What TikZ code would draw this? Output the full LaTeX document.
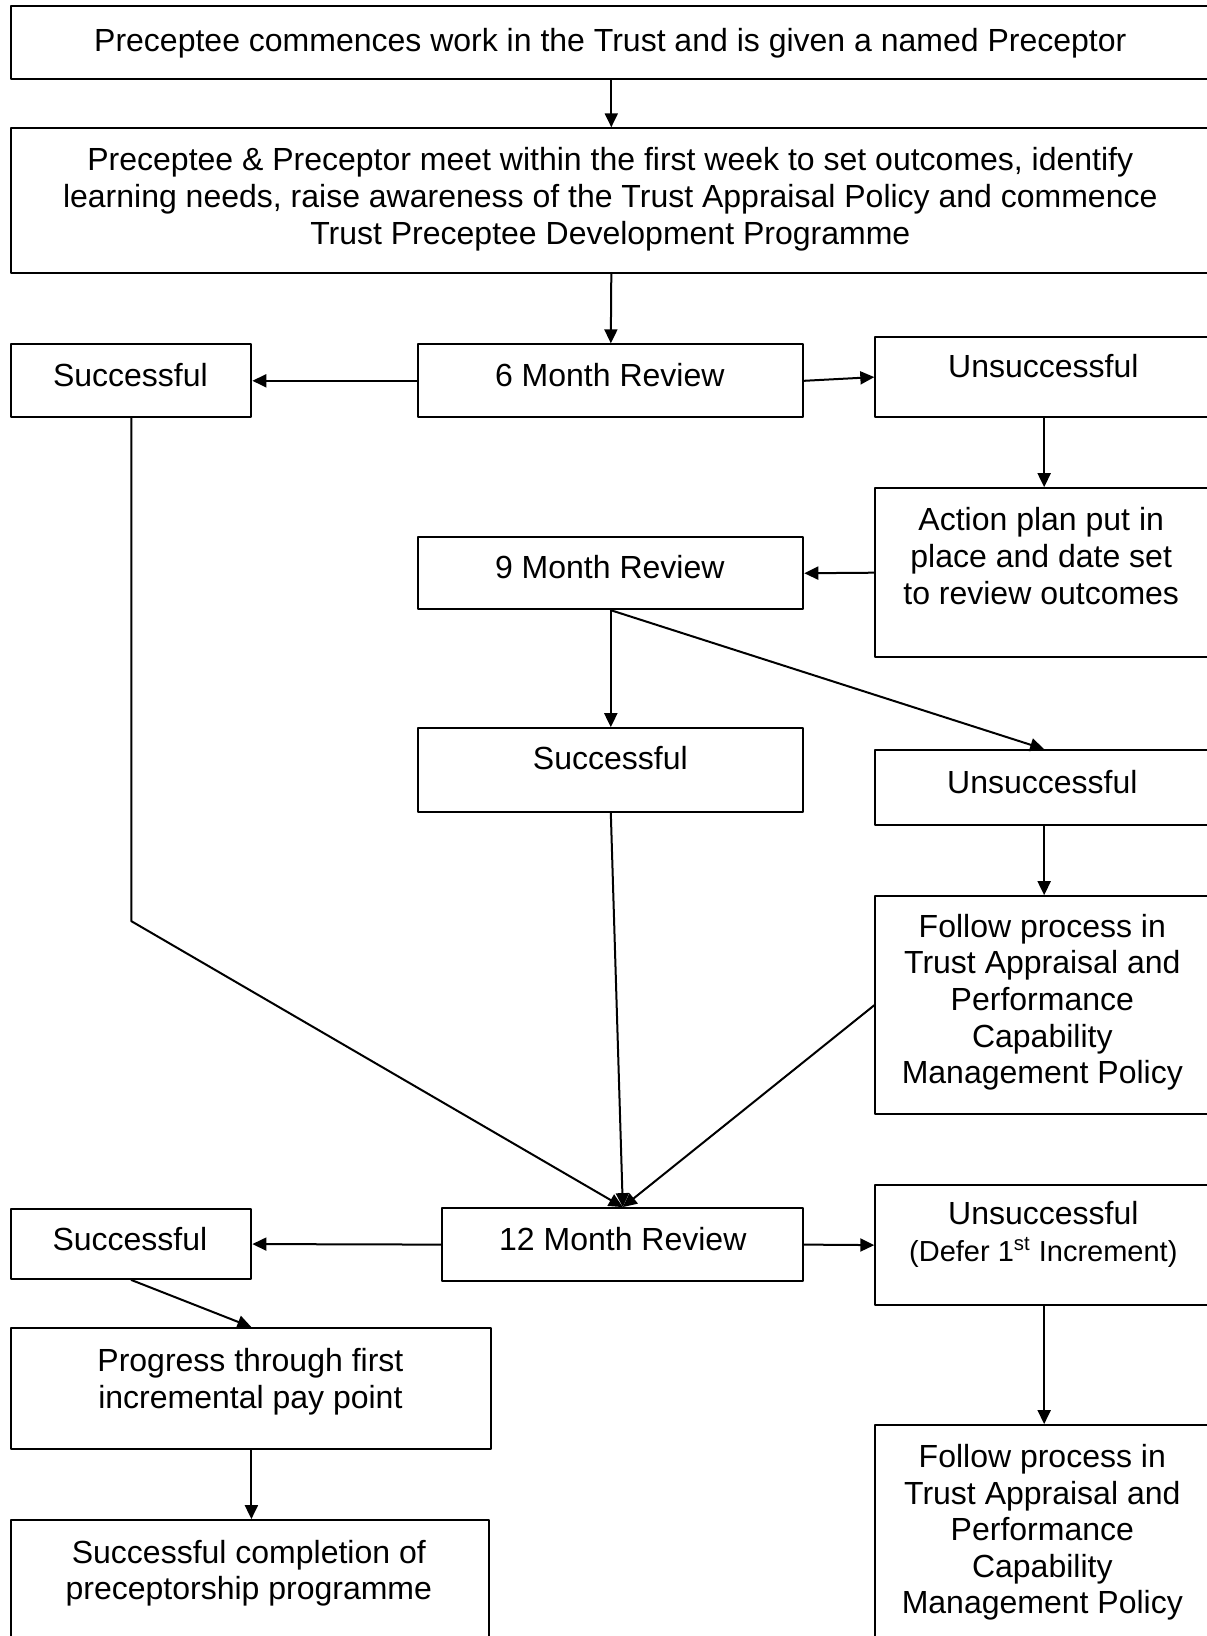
\documentclass[tikz,border=0pt]{standalone}
\usepackage{fontspec}
\setmainfont{Liberation Sans}
\usetikzlibrary{arrows.meta}
\tikzset{
	box/.style={draw, line width=1pt, rectangle, inner sep=0pt, anchor=north west},
	txt/.style={align=center, inner sep=0pt, font=\fontsize{16}{18.3}\selectfont},
	arr/.style={-{Triangle[length=7pt,width=6.5pt]}, line width=1pt},
}
\begin{document}
\begin{tikzpicture}[x=0.5pt, y=-0.5pt, line cap=round, line join=round]
	\useasboundingbox (0,0) rectangle (1206,1636);
	\node[box, minimum width=599.9pt, minimum height=36.5pt] (start) at (10.4,5.2) {};
	\node[box, minimum width=599.9pt, minimum height=72.5pt] (intro) at (10.4,127.3) {};
	\node[box, minimum width=192.5pt, minimum height=36.5pt] (six) at (417.3,343.3) {};
	\node[box, minimum width=120pt, minimum height=36.5pt] (succ6) at (10.4,343.3) {};
	\node[box, minimum width=168.85pt, minimum height=40.2pt] (uns6) at (874.3,335.9) {};
	\node[box, minimum width=168.85pt, minimum height=84.5pt] (action) at (874.3,487.2) {};
	\node[box, minimum width=192.5pt, minimum height=35.95pt] (nine) at (417.3,536.3) {};
	\node[box, minimum width=192.5pt, minimum height=41.7pt] (succ9) at (417.3,727.2) {};
	\node[box, minimum width=168.85pt, minimum height=37.55pt] (uns9) at (874.3,749.1) {};
	\node[box, minimum width=168.85pt, minimum height=109pt] (follow1) at (874.3,895.2) {};
	\node[box, minimum width=180.5pt, minimum height=36.5pt] (twelve) at (441.3,1207.1) {};
	\node[box, minimum width=120pt, minimum height=34.95pt] (succ12) at (10.4,1208.1) {};
	\node[box, minimum width=168.85pt, minimum height=60pt] (uns12) at (874.3,1184.1) {};
	\node[box, minimum width=240pt, minimum height=60.5pt] (progress) at (10.4,1327.1) {};
	\node[box, minimum width=238.95pt, minimum height=65.45pt] (complete) at (10.4,1519.1) {};
	\node[box, minimum width=168.85pt, minimum height=112.95pt] (follow2) at (874.3,1424.1) {};

	\node[txt] (start-t) at (610.3,42.8) {Preceptee commences work in the Trust and is given a named Preceptor};
	\node[txt] (intro-t) at (610.3,199.2) {Preceptee \& Preceptor meet within the first week to set outcomes, identify\\learning needs, raise awareness of the Trust Appraisal Policy and commence\\Trust Preceptee Development Programme};
	\node[txt] (six-t) at (609.8,375.5) {6 Month Review};
	\node[txt] (succ6-t) at (130.4,375.5) {Successful};
	\node[txt] (uns6-t) at (1043.3,366.2) {Unsuccessful};
	\node[txt] (action-t) at (1041.2,556) {Action plan put in\\place and date set\\to review outcomes};
	\node[txt] (nine-t) at (609.8,567.5) {9 Month Review};
	\node[txt] (succ9-t) at (610.3,758.4) {Successful};
	\node[txt] (uns9-t) at (1042.3,782.5) {Unsuccessful};
	\node[txt] (follow1-t) at (1042.3,1002.2) {Follow process in\\Trust Appraisal and\\Performance\\Capability\\Management Policy};
	\node[txt] (twelve-t) at (622.8,1239.4) {12 Month Review};
	\node[txt] (succ12-t) at (129.9,1239.4) {Successful};
	\node[txt] (uns12-t) at (1043.3,1234.4) {Unsuccessful\\{\fontsize{14.5}{17.75}\selectfont(Defer 1\textsuperscript{st} Increment)}};
	\node[txt] (progress-t) at (250.4,1381.8) {Progress through first\\incremental pay point};
	\node[txt] (complete-t) at (248.8,1573.4) {Successful completion of\\preceptorship programme};
	\node[txt] (follow2-t) at (1042.3,1532.5) {Follow process in\\Trust Appraisal and\\Performance\\Capability\\Management Policy};

	\coordinate (bend) at (129.4,921.2);
	\draw[arr] (start.south) -- (intro.north);
	\draw[arr] (intro.south) -- (six.north);
	\draw[arr] (six.west) -- (succ6.east);
	\draw[arr] (six.east) -- (uns6.west);
	\draw[arr] (uns6.south) -- (action.north);
	\draw[arr] (action.west) -- (nine.east);
	\draw[arr] (nine.south) -- (succ9.north);
	\draw[arr] (nine.south) -- (uns9.north);
	\draw[arr] (uns9.south) -- (follow1.north);
	\draw[arr] (succ6.south) -- (succ6.south |- bend) -- (twelve.north);
	\draw[arr] (succ9.south) -- (twelve.north);
	\draw[arr] (follow1.west) -- (twelve.north);
	\draw[arr] (twelve.west) -- (succ12.east);
	\draw[arr] (twelve.east) -- (uns12.west);
	\draw[arr] (succ12.south) -- (progress.north);
	\draw[arr] (progress.south) -- (progress.south |- complete.north);
	\draw[arr] (uns12.south) -- (follow2.north);
\end{tikzpicture}
\end{document}
